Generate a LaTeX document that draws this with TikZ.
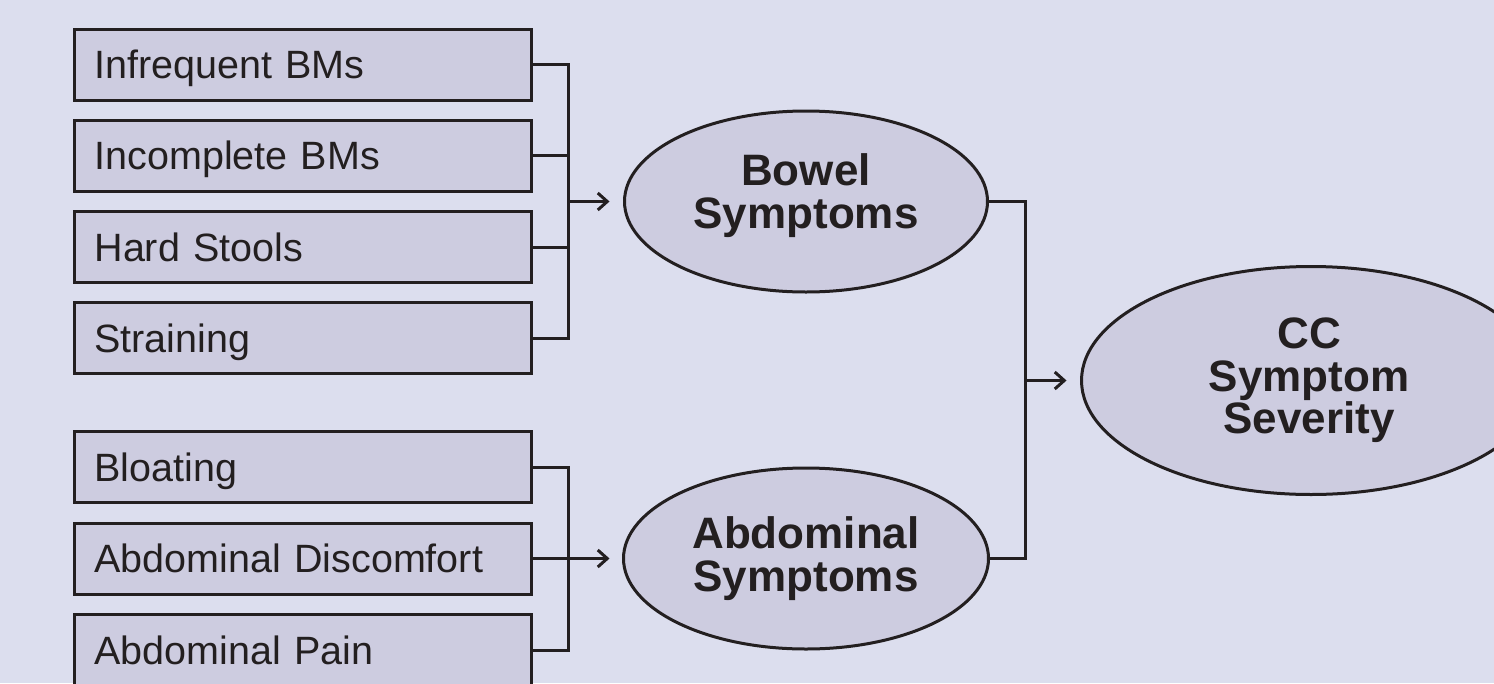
\documentclass[tikz,border=0pt]{standalone}
\usepackage{fontspec}
\setmainfont{Liberation Sans}
\usetikzlibrary{arrows.meta,shapes.geometric}
\definecolor{bg}{RGB}{220,222,238}
\definecolor{fillc}{RGB}{205,204,224}
\definecolor{ink}{RGB}{35,31,32}
\begin{document}
\begin{tikzpicture}[x=1pt,y=-1pt,
  line width=3pt,
  conn/.style={draw=ink, line width=3pt},
  arr/.style={conn, -{Straight Barb[length=9.5pt,width=17pt]}},
  box/.style={rectangle, draw=ink, fill=fillc, line width=3pt,
    minimum width=457pt, minimum height=71pt, text width=417pt,
    inner xsep=20pt, inner ysep=0pt, align=left, text height=28pt,
    text depth=0pt, font=\fontsize{39.5}{44}\selectfont, text=ink,
    outer sep=0pt, anchor=west},
  ell/.style={ellipse, draw=ink, fill=fillc, line width=3pt,
    inner sep=0pt, outer sep=0pt},
  etext/.style={font=\bfseries\fontsize{44}{42.5}\selectfont, align=center,
    text=ink, inner sep=0pt}
]
\path[use as bounding box, fill=bg] (0,0) rectangle (1494,683);
\clip (0,0) rectangle (1494,683);

% upper boxes
\node[box] (b1) at (74.5,64.7)  {Infrequent BMs};
\node[box] (b2) at (74.5,155.9) {Incomplete BMs};
\node[box] (b3) at (74.5,247.1) {Hard Stools};
\node[box] (b4) at (74.5,338.3) {Straining};
% lower boxes
\node[box] (b5) at (74.5,467)   {Bloating};
\node[box] (b6) at (74.5,558.5) {Abdominal Discomfort};
\node[box] (b7) at (74.5,650)   {Abdominal Pain};

% ellipses
\node[ell, minimum width=363pt, minimum height=181pt] (bowel) at (806,201.5) {};
\node[etext] (bowelt) at (806,195.6) {Bowel\\Symptoms};
\node[ell, minimum width=365pt, minimum height=181pt] (abd) at (806,558.5) {};
\node[etext] (abdt) at (806,558.8) {Abdominal\\Symptoms};
\node[ell, minimum width=459pt, minimum height=228pt] (cc) at (1311,380.5) {};
\node[etext] (cct) at (1309,380.5) {CC\\Symptom\\Severity};

% buses
\coordinate (busU) at (568,201.5);
\coordinate (busL) at (568,558.5);
\coordinate (busR) at (1025.5,380.5);

\draw[conn] (b1.east) -| (busU);
\draw[conn] (b4.east) -| (busU);
\draw[conn] (b2.east) -- (b2.east -| busU);
\draw[conn] (b3.east) -- (b3.east -| busU);
\draw[arr] (busU) -- ([xshift=-15pt]bowel.west);

\draw[conn] (b5.east) -| (busL);
\draw[conn] (b7.east) -| (busL);
\draw[arr] (b6.east) -- ([xshift=-14pt]abd.west);

\draw[conn] (bowel.east) -| (busR) |- (abd.east);
\draw[arr] (busR) -- ([xshift=-15pt]cc.west);
\end{tikzpicture}
\end{document}
